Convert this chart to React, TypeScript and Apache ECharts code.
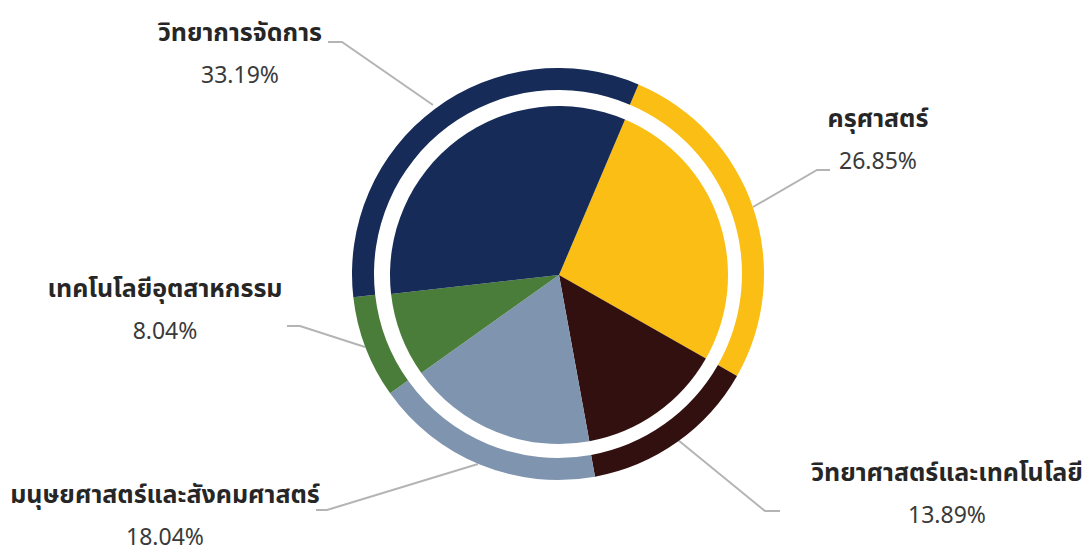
import React, { useEffect, useRef } from "react";
import * as echarts from "echarts";

const categories = [
  "ครุศาสตร์",
  "วิทยาศาสตร์และเทคโนโลยี",
  "มนุษยศาสตร์และสังคมศาสตร์",
  "เทคโนโลยีอุตสาหกรรม",
  "วิทยาการจัดการ",
];
const values = [26.85, 13.89, 18.04, 8.04, 33.19];
const colors = ["#FBBE15", "#331010", "#7F94AE", "#4A7D3A", "#162B57"];

// label layout: block centre and leader line points (pixels)
const labelCenters: [number, number][] = [
  [878, 131],
  [947, 485],
  [165, 507],
  [165, 301],
  [240, 45],
];
const leaderLines: [number, number][][] = [
  [[753, 207], [817, 170], [830, 170]],
  [[678, 440], [765, 511], [780, 511]],
  [[478, 464], [327, 510], [316, 510]],
  [[365, 347], [300, 326], [287, 326]],
  [[433, 105], [342, 42], [328, 42]],
];

const FONT = "'Noto Sans Thai', 'Noto Sans Thai UI', 'Leelawadee UI', Tahoma, 'DejaVu Sans', sans-serif";

export default function App() {
  const ref = useRef<HTMLDivElement>(null);
  useEffect(() => {
    if (!ref.current) return;
    const chart = echarts.init(ref.current, null, { renderer: "svg" });
    const data = categories.map((name, i) => ({
      name,
      value: values[i],
      itemStyle: { color: colors[i] },
    }));
    chart.setOption({
      animation: false,
      backgroundColor: "#ffffff",
      series: [
        {
          type: "pie",
          center: [559, 275],
          radius: [0, 169],
          startAngle: 67,
          clockwise: true,
          silent: true,
          label: { show: false },
          labelLine: { show: false },
          data,
        },
        {
          type: "pie",
          center: [558, 274],
          radius: [184, 206],
          startAngle: 67,
          clockwise: true,
          silent: true,
          avoidLabelOverlap: false,
          label: {
            show: true,
            position: "outside",
            formatter: (p: any) => `{n|${p.name}}\n{p|${p.value.toFixed(2)}%}`,
            rich: {
              n: {
                fontFamily: FONT,
                fontSize: 25,
                fontWeight: "bold",
                color: "#262626",
                lineHeight: 62,
                align: "center",
              },
              p: {
                fontFamily: FONT,
                fontSize: 23,
                color: "#3a3a3a",
                lineHeight: 24,
                align: "center",
              },
            },
          },
          labelLine: {
            show: true,
            lineStyle: { color: "#b4b4b4", width: 2 },
          },
          labelLayout: (params: any) => {
            const i = params.dataIndex;
            return {
              x: labelCenters[i][0],
              y: labelCenters[i][1],
              align: "center",
              verticalAlign: "middle",
              labelLinePoints: leaderLines[i],
            };
          },
          data,
        },
      ],
    });
    return () => chart.dispose();
  }, []);
  return (
    <div
      ref={ref}
      style={{ position: "fixed", left: 0, top: 0, width: 1088, height: 556, background: "#fff" }}
    />
  );
}
